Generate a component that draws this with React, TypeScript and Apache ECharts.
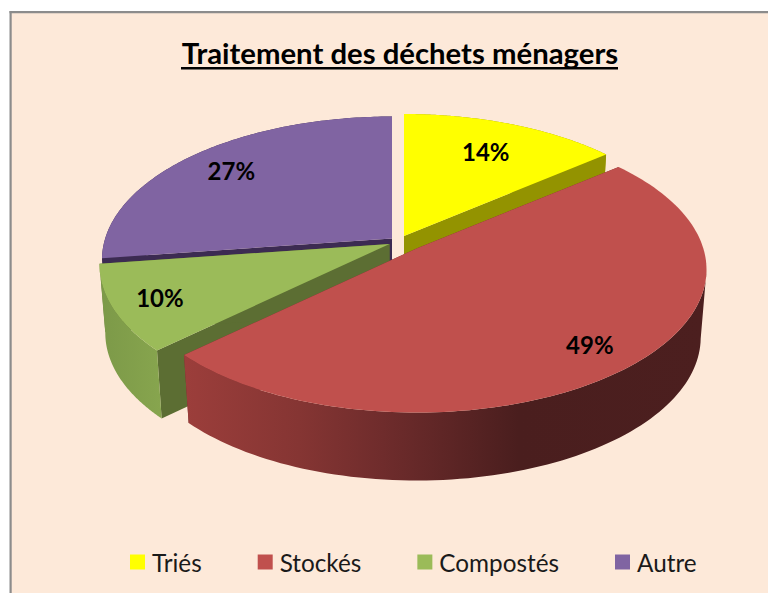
import React, { useEffect, useRef } from "react";
import * as echarts from "echarts";

const titleText = "Traitement des déchets ménagers";
const categories = ["Triés", "Stockés", "Compostés", "Autre"];
const values = [14, 49, 9.8, 27.2];
const shownPercents = ["14%", "49%", "10%", "27%"];

// styles
const topColors = ["#FFFF00", "#C0504D", "#9BBB59", "#8064A2"];
const cutColors = ["#939300", "#6F2C2C", "#5C6E33", "#3C2B52"];
const outerStops: [number, string][][] = [
  [[0, "#939300"], [1, "#939300"]],
  [[0, "#9C3E3B"], [0.22, "#853533"], [0.38, "#6F2C2C"], [0.64, "#4A1E1E"], [1, "#4C1F1F"]],
  [[0, "#7C9948"], [1, "#87A54E"]],
  [[0, "#3C2B52"], [1, "#3C2B52"]],
];
// layout of the exploded slices: where each wedge's tip sits on the page
const tips = [[404, 236], [416.5, 248.5], [389.5, 244], [392, 238.5]];
const labelRadius = [0.735, 0.83, 0.84, 0.8];
const drawOrder = [3, 2, 0, 1];
const RX = 290, RY = 143, PERSP = 0.147, DEPTH = 68, FOOT = 0.98;
const B = RX * Math.sqrt(1 - PERSP * PERSP);
const D = RY * (1 - PERSP * PERSP);

const total = values.reduce((a, b) => a + b, 0);
const project = (deg: number, r: number) => {
  const t = (deg * Math.PI) / 180;
  const X = r * Math.sin(t), Y = r * Math.cos(t);
  const s = 1 / (1 + PERSP * Y);
  return [B * X * s, -D * Y * s];
};

const makeRenderItem = (i: number) => (_p: any, api: any) => {
  const v = api.value(0);
  const before = values.slice(0, i).reduce((a, b) => a + b, 0);
  const a0 = (before / total) * 360;
  const a1 = ((before + v) / total) * 360;
  const [tx, ty] = tips[i];
  const top = (x: number, y: number) => [tx + x, ty + y];
  const foot = (x: number, y: number) => [tx + x * FOOT, ty + y + DEPTH];
  const arc: number[][] = [];
  const n = 120;
  for (let k = 0; k <= n; k++) arc.push(project(a0 + ((a1 - a0) * k) / n, 1));
  const first = arc[0], last = arc[n];
  const cut = (p: number[]) => [top(0, 0), top(p[0], p[1]), foot(p[0], p[1]), foot(0, 0)];
  // the wall is only seen between the arc's rightmost and leftmost points
  const xs = arc.map((p) => p[0]);
  const iMax = xs.indexOf(Math.max(...xs));
  const iMin = xs.indexOf(Math.min(...xs));
  const front = arc.slice(Math.min(iMax, iMin), Math.max(iMax, iMin) + 1);
  const outer = [...front.map((p) => top(p[0], p[1])), ...front.slice().reverse().map((p) => foot(p[0], p[1]))];
  const face = [top(0, 0), ...arc.map((p) => top(p[0], p[1]))];
  const mid = project((a0 + a1) / 2, labelRadius[i]);
  return {
    type: "group",
    children: [
      { type: "polygon", shape: { points: cut(first) }, style: { fill: cutColors[i] } },
      { type: "polygon", shape: { points: cut(last) }, style: { fill: cutColors[i] } },
      {
        type: "polygon",
        shape: { points: outer },
        style: {
          fill: {
            type: "linear", x: 0, y: 0, x2: 1, y2: 0,
            colorStops: outerStops[i].map(([offset, color]) => ({ offset, color })),
          },
        },
      },
      { type: "polygon", shape: { points: face }, style: { fill: topColors[i] } },
      {
        type: "text",
        x: tx + mid[0],
        y: ty + mid[1],
        z2: 10,
        style: {
          text: shownPercents[i],
          fill: "#000000",
          font: 'bold 24px Lato',
          align: "center",
          verticalAlign: "middle",
        },
      },
    ],
  };
};

export default function App() {
  const ref = useRef<HTMLDivElement>(null);
  useEffect(() => {
    document.body.style.margin = "0";
    const chart = echarts.init(ref.current!, undefined, { renderer: "svg" });
    chart.setOption({
      animation: false,
      backgroundColor: "#FFFFFF",
      title: {
        text: titleText,
        left: 395,
        top: 33,
        textAlign: "center",
        textStyle: { fontFamily: "Lato", fontWeight: "bold", fontSize: 29.3, color: "#000000" },
      },
      legend: {
        data: categories,
        left: 125,
        top: 545,
        itemWidth: 15,
        itemHeight: 15,
        itemGap: 56,
        icon: "rect",
        textStyle: { fontFamily: "Lato", fontSize: 24.3, color: "#1A1A1A", padding: [0, 0, 0, 2] },
      },
      graphic: [
        { type: "rect", z: -10, shape: { x: 11, y: 13, width: 757, height: 580 }, style: { fill: "#FDE9D9" } },
        { type: "rect", z: -9, shape: { x: 9.5, y: 11, width: 758.5, height: 2.2 }, style: { fill: "#8C8C8C" } },
        { type: "rect", z: -9, shape: { x: 9.5, y: 11, width: 2.2, height: 582 }, style: { fill: "#8C8C8C" } },
        { type: "rect", z: 5, shape: { x: 181, y: 67, width: 437, height: 2.4 }, style: { fill: "#000000" } },
      ],
      series: categories.map((name, i) => ({
        type: "custom",
        name,
        coordinateSystem: "none",
        z: 2 + drawOrder.indexOf(i),
        itemStyle: { color: topColors[i] },
        data: [values[i]],
        renderItem: makeRenderItem(i),
      })),
    });
    return () => chart.dispose();
  }, []);
  return <div ref={ref} style={{ width: 768, height: 593 }} />;
}
